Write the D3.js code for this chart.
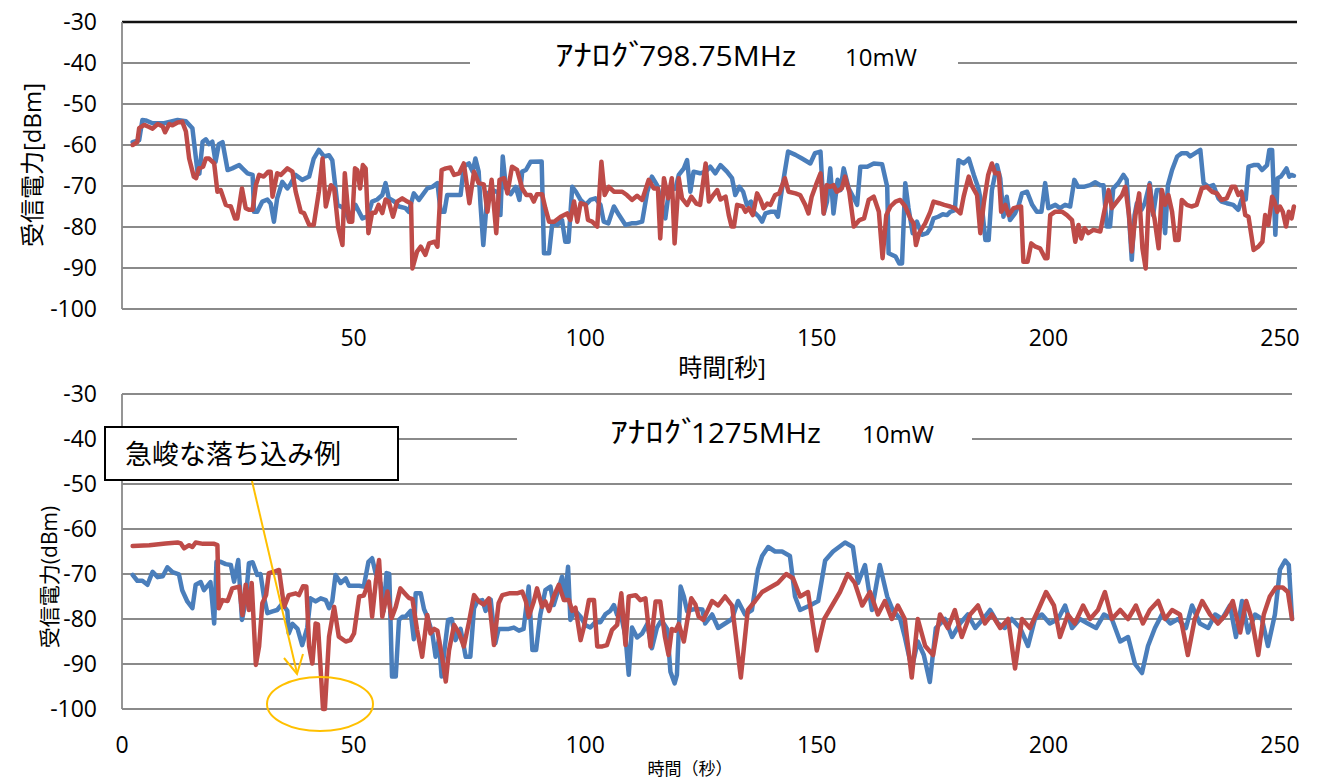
<!DOCTYPE html>
<html>
<head>
<meta charset="utf-8">
<script src="https://cdnjs.cloudflare.com/ajax/libs/d3/7.8.5/d3.min.js"></script>
<style>
  body { margin: 0; background: #fff; }
  text { font-family: "Open Sans", "Noto Sans CJK JP", sans-serif; fill: #000; }
</style>
</head>
<body>
<script>
// received power over time, [seconds, dBm]
var top798Blue = [[2.3,-59.3],[3.7,-58.8],[4.4,-53.9],[5.1,-54],[6.6,-54.7],[9.1,-54.7],[12,-53.9],[13.8,-54.2],[15.2,-55.9],[16.3,-66.5],[16.7,-67],[17.4,-59.2],[18.1,-58.6],[18.8,-59.8],[19.5,-59.2],[20.2,-64.1],[20.9,-59.8],[21.7,-59.3],[22.8,-66.1],[23.8,-65.7],[25.3,-64.9],[26,-65.7],[27.1,-66.9],[28.2,-67.3],[28.5,-76.3],[29.2,-76.3],[30.3,-73.8],[31.4,-73.3],[32.1,-74.3],[32.8,-78.7],[33.5,-73],[34.6,-69],[35.7,-70.6],[36.4,-69.5],[37.5,-67.3],[38.9,-68.5],[40.4,-67.7],[41.4,-63.3],[42.5,-61.2],[43.6,-62.8],[44.7,-62.5],[45.4,-63.7],[46.5,-74.6],[47.9,-75.4],[49,-78.3],[50.4,-74.6],[51.9,-77.9],[53,-77.4],[54,-73.8],[55.1,-73.3],[56.2,-72.2],[56.9,-69.3],[57.6,-73],[58.7,-73.7],[59.8,-75],[61.2,-75.4],[61.9,-76.3],[63,-71.8],[64.1,-73.4],[65.9,-70.6],[67,-70.2],[68.1,-69.3],[68.8,-76.3],[69.6,-76.3],[70.2,-72.2],[73.1,-72.2],[73.8,-65.3],[74.9,-64.5],[75.7,-66.5],[76.3,-63.3],[77,-66.5],[77.4,-74.6],[78,-84.4],[78.9,-71.8],[80,-71],[81.2,-71.6],[81.7,-77.1],[82.2,-62.8],[82.9,-70.6],[83.9,-72],[85,-70.2],[85.8,-73.4],[86.4,-66.5],[87.2,-66.1],[88.2,-64.1],[90.6,-64],[91.1,-86.4],[92.2,-86.4],[92.9,-79.1],[94,-79.5],[95,-78.3],[95.7,-83.6],[96.4,-83.6],[97.2,-70.2],[98,-71.4],[99,-73.4],[100.1,-74.6],[101.1,-73.4],[102.2,-73],[103.3,-74.6],[104,-78.7],[105,-79.1],[106.2,-75],[107.3,-77.1],[108.7,-79.5],[110,-79.1],[110.9,-79.1],[112.3,-78.7],[113.4,-71.4],[114.4,-67.7],[115.5,-69.8],[116.6,-74.6],[117.3,-77.9],[118.1,-71],[119.5,-70.6],[120.2,-67.3],[121.3,-65.7],[122,-63.7],[122.7,-71.4],[123.4,-66.5],[124.8,-66.9],[126,-66.5],[127,-65.3],[128.1,-66.9],[129.2,-64.9],[130.6,-66.5],[131.7,-68.1],[132.4,-72.2],[133.3,-70.2],[134.1,-71.4],[134.9,-74.6],[135.8,-73.8],[136.4,-76.3],[137.5,-77.5],[138.2,-78.7],[138.9,-76.7],[140,-76.3],[141,-76.3],[141.6,-77.5],[142.5,-70.6],[143.8,-61.6],[145.4,-62.4],[146.8,-63.3],[148.6,-64.5],[149.6,-62],[150.8,-61.6],[151.5,-76.7],[152.2,-73.8],[152.9,-65.7],[153.6,-76.7],[154.5,-68.5],[155.1,-71],[155.8,-65.7],[156.9,-70.6],[158,-73],[158.7,-74.6],[159.4,-65.3],[160.9,-65.3],[162.3,-64.5],[164.1,-64.7],[165.2,-70.2],[165.5,-86.4],[167,-87.2],[167.8,-88.9],[168.4,-88.9],[169.1,-69.3],[169.8,-75.4],[170.7,-81.5],[171.6,-78.7],[172.7,-81.9],[173.8,-81.5],[174.5,-80.3],[175.2,-77.9],[176.2,-77.5],[177.2,-76.9],[178.1,-77.1],[178.8,-76.3],[179.8,-75.9],[180.6,-63.7],[181.7,-64.5],[182.8,-63.3],[183.9,-67.3],[184.9,-70.6],[185.6,-74.6],[186.4,-83.2],[187.1,-83.2],[187.8,-71],[188.9,-64.9],[189.6,-68.1],[190.3,-77.5],[191,-72.6],[191.7,-78.3],[192.8,-76.7],[193.6,-74.6],[194.3,-71.8],[195.4,-71.4],[196.5,-74.6],[197.5,-76.3],[198.5,-76.3],[199.3,-69.3],[200,-75.4],[201.5,-74.6],[202.5,-75.4],[203.6,-74.6],[204.7,-75],[205.6,-68.5],[206.4,-70.2],[207.6,-70.2],[209,-69.8],[210.1,-69.1],[211.2,-69.8],[211.9,-69.8],[212.6,-79.9],[213.3,-79.9],[214,-70.6],[215.1,-69.3],[216.2,-67.3],[216.9,-68.5],[218,-88],[218.6,-77.1],[219.1,-74.2],[220.1,-75.8],[220.8,-74.2],[221.9,-69.3],[222.6,-77.1],[223.4,-71],[224.3,-71],[225.2,-81.5],[225.8,-69.8],[226.7,-66.1],[227.8,-62.8],[228.8,-62],[229.9,-62],[230.6,-62.8],[231.7,-62],[232.8,-61.2],[233.5,-69.3],[234.6,-70.2],[235.6,-69.8],[236.7,-73],[237.4,-73.8],[238.5,-74.2],[239.9,-74.6],[241,-75.8],[241.7,-73.3],[242.6,-73.3],[243.2,-65.3],[244.3,-64.9],[245.3,-64.9],[246.1,-66.1],[247.2,-64.9],[247.7,-61.2],[248.3,-61.2],[249,-81.9],[249.5,-68.1],[250.2,-67.7],[250.7,-66.9],[251.4,-65.7],[252,-67.7],[252.5,-67.3],[253,-67.5]];

var top798Red = [[2.3,-60],[3.3,-59.3],[3.7,-55.9],[4.8,-55.1],[5.6,-55.5],[6.6,-56],[7.7,-54.9],[8.8,-55.5],[9.3,-56.9],[10.2,-54.9],[10.9,-55.2],[12,-54.5],[13,-54.3],[13.8,-56.7],[14.5,-63.3],[15.5,-67.7],[16,-68.1],[16.6,-65.7],[17.5,-65.3],[18.1,-63.3],[18.8,-63.3],[19.9,-64.5],[20.6,-71.4],[21.3,-71],[22.4,-74.6],[23.5,-75],[24.4,-77.9],[24.9,-77.9],[25.9,-70.6],[26.7,-75.4],[27.4,-75.8],[28.2,-75.8],[28.9,-69.8],[29.6,-67.3],[30.6,-67.7],[31.6,-66.5],[32.1,-66.5],[32.5,-72.6],[33.5,-66.9],[34.3,-67.3],[35.7,-65.7],[36.8,-66.5],[37.5,-71.4],[38.6,-76.3],[39.3,-76.6],[40.4,-79.5],[41.4,-79.5],[42.5,-71.4],[43.3,-63.3],[44,-75],[45.1,-69.8],[45.8,-70.6],[46.7,-80.3],[47.6,-84.4],[48.1,-66.9],[49,-78.7],[49.7,-78.7],[50.3,-65.7],[50.8,-66.1],[51.4,-70.6],[52,-64.9],[52.6,-65.7],[53.2,-81.5],[54,-76.5],[54.7,-76.5],[55.4,-74.6],[56.2,-76.6],[56.9,-73.3],[57.6,-73.8],[58.5,-77.5],[59.4,-73.8],[60.5,-73],[61.6,-73.8],[62.4,-74.3],[62.7,-90.1],[63.7,-86],[64.5,-84.8],[65.5,-86.8],[66.3,-84],[67.5,-83.6],[68.1,-84.8],[69,-66.1],[69.9,-65.7],[70.9,-65.5],[71.7,-67.3],[72.8,-66.9],[73.8,-64.5],[75,-74.2],[76,-66.5],[77,-69.3],[78.1,-69.6],[78.9,-76.3],[79.8,-68.5],[80.8,-81.5],[81.5,-68.5],[82.5,-68.1],[83.2,-71.8],[84.2,-65.3],[85.3,-66.1],[86.4,-70.6],[87.3,-72.2],[88.2,-72.2],[88.9,-73.8],[89.6,-72],[90.7,-72],[91.4,-75.4],[92.2,-78.7],[93.3,-78.7],[94.7,-77.5],[96.1,-76.7],[96.8,-78.3],[97.6,-73.8],[98.3,-78.7],[99,-74.2],[100.1,-74.6],[100.6,-78.3],[101.5,-78.7],[102.6,-79.9],[103.5,-64.1],[104.2,-72.2],[105.1,-70.2],[106.2,-71.4],[108,-71.4],[109,-72.2],[110.1,-73.4],[111.2,-72.4],[112.3,-73.4],[113.7,-68.5],[114.8,-70.6],[115.7,-70.6],[116.2,-82.8],[117,-68.1],[117.9,-73],[118.7,-68.1],[119.3,-84],[120.2,-68.1],[120.9,-73],[122,-74.6],[122.9,-72.6],[124,-74.3],[124.8,-74.6],[126,-64.5],[126.7,-73.8],[127.4,-72.6],[128.5,-71],[129.2,-73.3],[130.3,-72.6],[131,-77.1],[131.6,-79.9],[132.1,-79.9],[132.8,-74.6],[134,-75],[134.6,-76.3],[135.3,-75.4],[136.2,-77.1],[137.1,-71.8],[137.8,-73.3],[138.5,-75.4],[139.3,-74.3],[140,-74.6],[141,-72.2],[141.9,-71.8],[143.1,-68.1],[143.9,-71.4],[145.4,-71.8],[146.4,-72.2],[147.5,-74.6],[148.2,-76.7],[148.9,-72.6],[149.8,-69.8],[150.8,-66.9],[151.5,-76.7],[152.1,-69.8],[152.9,-70.2],[153.6,-69.8],[154.3,-71.4],[155.4,-70.6],[156.1,-67.7],[157,-71.4],[158,-79.9],[159.2,-78.3],[160.2,-77.9],[161.2,-73.4],[162.3,-72.6],[163.4,-76.3],[164.2,-87.6],[165,-77.1],[165.9,-75],[167,-73.8],[168,-73.4],[169.1,-75],[170.2,-77.9],[170.9,-79.1],[171.4,-84.4],[172.1,-81.5],[173.4,-79.1],[174.5,-76.3],[175.2,-73.8],[176.4,-74.2],[177.5,-74.6],[178.8,-75],[179.8,-75.4],[181,-76.7],[181.7,-72.6],[182.8,-67.7],[183.4,-69.8],[184.6,-72.2],[185.3,-81.5],[186.1,-73.8],[187,-67.3],[187.8,-64.5],[188.5,-66.9],[189.3,-66.9],[189.8,-76.3],[190.7,-74.6],[191.4,-77.1],[192.5,-75.4],[193.3,-75.2],[194.1,-75],[194.6,-88.5],[195.5,-88.5],[196.3,-84],[197.2,-84.8],[198.2,-85.2],[199.3,-87.6],[199.8,-87.6],[200.4,-77.1],[201.4,-76.3],[203,-76.3],[204,-77.1],[205.1,-78.3],[205.8,-83.6],[206.5,-79.5],[207.1,-82.8],[207.8,-80.3],[208.6,-81.5],[209.7,-80.7],[211.2,-81.1],[211.9,-77.1],[213,-71],[213.7,-75.4],[214.8,-73.8],[215.9,-72.2],[216.6,-70.2],[217.4,-77.1],[218,-86],[218.8,-77.1],[219.6,-71.8],[220.3,-85.2],[221,-90.1],[221.8,-69.8],[222.4,-75.4],[222.9,-77.9],[223.8,-85.2],[224.5,-71],[225.2,-74.6],[225.9,-72.2],[226.7,-76.3],[227.4,-83.2],[228.1,-83.2],[228.8,-73.4],[229.9,-74.6],[230.9,-75],[232,-74.6],[233.1,-70.6],[234.2,-70.2],[235.3,-71.4],[236.4,-71.8],[237.4,-73.4],[238.5,-73],[239.6,-70.2],[240.3,-70.2],[241,-72.2],[241.7,-71.4],[242.5,-77.1],[243.2,-77.5],[244.3,-85.6],[245.3,-84.8],[246.2,-83.6],[246.8,-77.1],[247.5,-79.5],[248.3,-72.6],[248.8,-73.8],[249.4,-76.3],[250,-75],[250.6,-76.3],[251.3,-79.9],[251.9,-76.3],[252.5,-77.9],[253,-75]];

var bot1275Blue = [[2.3,-70.2],[3.3,-71.5],[4.4,-71.5],[5.5,-72.4],[6.6,-69.5],[7.7,-70.7],[8.8,-70.5],[9.8,-68.5],[10.9,-69.6],[12.3,-70.1],[13,-73.6],[14.1,-76.1],[15.2,-77.6],[15.9,-72.4],[17,-71.8],[17.7,-73.6],[19.1,-71.8],[19.9,-81],[20.4,-67.3],[21.3,-67.3],[22.4,-67.8],[23.5,-68],[24.2,-71.7],[25.1,-66.9],[25.9,-80.2],[26.7,-76],[27.4,-67.6],[28.2,-67.4],[29.2,-70.2],[29.9,-70],[30.7,-75.4],[31.4,-78.7],[32.5,-78.3],[33.5,-78],[34.6,-76.6],[35.7,-78.2],[36,-83.2],[36.8,-81.1],[37.9,-82.2],[38.9,-85.8],[40,-81.9],[40.7,-75.4],[41.8,-76.1],[42.9,-75.4],[44,-75.8],[44.7,-77.6],[45.4,-76],[46.1,-70.2],[47.2,-72],[48.3,-71],[49,-72.6],[51.2,-72.6],[52.2,-72.8],[53.2,-67.3],[54,-66.5],[54.8,-70],[55.8,-72],[56.5,-78.2],[57.1,-69.8],[57.7,-70],[58.3,-92.8],[59.1,-92.8],[59.8,-80.2],[60.5,-79.5],[61.2,-79.5],[62.3,-78.2],[63,-84.5],[63.4,-74.3],[64.5,-74.3],[65.2,-77.8],[65.9,-79.5],[67,-83.2],[67.7,-88.4],[68.4,-84.6],[69,-92.8],[69.6,-87],[70.4,-80.2],[71.2,-80],[72,-84.7],[73.1,-82.2],[74.2,-88.4],[75.2,-88.4],[76,-77.6],[76.7,-76.1],[77.8,-75.8],[78.5,-78.2],[79.6,-75.7],[80.6,-85.4],[81.3,-82.2],[82.4,-82.2],[83.5,-82.2],[84.6,-81.9],[85.7,-82.6],[86.7,-82.2],[87.8,-72.8],[88.6,-86.9],[89.4,-86.9],[90.3,-79.1],[91.4,-73.6],[92.5,-72.8],[93.2,-76.9],[94.3,-73.2],[95,-70.6],[95.6,-75.8],[96.3,-68.4],[96.8,-80.2],[97.9,-78.2],[99,-79.5],[100.1,-81.4],[101.1,-81.9],[102.2,-80.7],[103.3,-80.7],[104.4,-78.9],[105.4,-78.2],[106.2,-76.9],[106.9,-79.1],[107.8,-79.5],[108.7,-83.9],[109.4,-92.4],[110.1,-81.9],[111.2,-84.1],[112.3,-83.2],[113.4,-81.1],[114.4,-86.5],[115.5,-81.9],[116.2,-80.7],[117,-81.1],[117.7,-82.2],[118.4,-91.7],[119.3,-94.3],[119.8,-92.4],[120.6,-72.8],[121.3,-75],[122,-78.3],[123.1,-77.9],[124.2,-77.8],[125.3,-77.9],[125.9,-81],[127.4,-79],[128.7,-82],[130.2,-81],[131.7,-80],[133,-76],[134.5,-79],[136,-78],[137.3,-69],[138.2,-66],[139.5,-64],[141,-65],[142.5,-65],[144.2,-66],[145.3,-75],[146.4,-78],[148.5,-77],[150.3,-76],[151.8,-67],[153.5,-65],[156.1,-63],[157.8,-64],[158.9,-72],[160.4,-68],[161.9,-78],[163.6,-68],[165.2,-75],[166.4,-78],[168,-80],[169,-84],[170.5,-91],[171.8,-85],[173.1,-88],[174.4,-94],[175.7,-82],[177.7,-80],[179.2,-84],[180.9,-81],[182.6,-79],[184.2,-82],[185.9,-80],[187.4,-78],[189.1,-81],[190.6,-82],[192.1,-80],[193.9,-82],[195.6,-86],[197.1,-80],[198.6,-79],[200.3,-81],[202.1,-80],[203.6,-77],[205.1,-82],[206.8,-80],[208.5,-81],[210.3,-82],[212,-79],[213.7,-80],[215.5,-85],[217.2,-84],[218.7,-90],[220.2,-92],[221.5,-86],[223,-82],[224.5,-79],[226.3,-81],[228,-80],[229.7,-82],[231,-77],[232.7,-81],[234.5,-82],[236,-79],[237.5,-80],[239.2,-77],[240.5,-84],[241.8,-76],[243.1,-83],[244.6,-79],[246.1,-80],[247.4,-86],[248.9,-79],[250,-69],[251.1,-67],[251.9,-68],[252.6,-80]];

var bot1275Red = [[2.3,-63.8],[5.9,-63.6],[9.4,-63.2],[12,-63],[12.7,-63.2],[13.4,-64.3],[14.5,-63.6],[15.2,-64],[15.9,-63],[17.5,-63.3],[19.9,-63.3],[20.6,-63.6],[20.9,-77.6],[21.7,-75.8],[22.8,-76],[23.8,-73.2],[25.3,-72.8],[26,-79.1],[26.7,-72.4],[27.4,-78],[28,-72],[28.9,-90.2],[29.6,-86.1],[30.3,-76.5],[31.1,-74.7],[31.7,-69.8],[32.8,-69.5],[33.9,-69.1],[35,-77.3],[36,-74.7],[37.5,-74.3],[38.2,-74.7],[39.1,-72.7],[39.8,-72.8],[40.4,-86.1],[41.1,-89.9],[41.8,-81],[42.3,-81.2],[43.4,-100],[43.8,-100],[44.7,-83.9],[45.8,-77.3],[46.8,-83.9],[48.3,-85],[49.3,-84.7],[50.1,-83.2],[51.2,-75],[52.2,-74.8],[53.3,-71.7],[54,-79.5],[54.8,-71.7],[55.5,-66.9],[56.2,-79.5],[57.3,-73.9],[58.2,-79.8],[59.1,-77.3],[60.1,-73.2],[61.2,-74.5],[61.9,-75.3],[62.7,-75.6],[63.7,-82.4],[64.8,-88.4],[65.9,-79.1],[66.6,-83.2],[67.4,-82.2],[68.1,-82.6],[69.1,-88.4],[69.9,-93.9],[70.6,-87],[71.7,-81.3],[72.8,-83.2],[73.8,-86.1],[74.9,-80.7],[76,-74.7],[77,-76.1],[78.1,-76.8],[79.2,-75.4],[80.3,-85.8],[81.3,-76.5],[82.1,-74.7],[83.6,-74.3],[85.3,-74.3],[86.4,-73.9],[87.2,-76.1],[87.8,-79.5],[88.9,-76.1],[89.6,-73.2],[90.7,-77.3],[91.4,-76.1],[92.2,-78.2],[93.2,-75],[94.3,-72.4],[95.4,-75.8],[96.5,-75.8],[97.2,-78.2],[97.9,-77.5],[99,-84.7],[99.7,-81.9],[100.8,-75.8],[101.9,-75.8],[102.6,-86.1],[103.7,-86.1],[104.7,-85.8],[105.8,-82.4],[106.9,-81.3],[107.8,-74.3],[108.7,-85.8],[109.4,-75],[110.9,-74.7],[111.9,-75.8],[113,-75.4],[114.1,-86.1],[115.2,-76.1],[116.2,-76.1],[117.2,-83.9],[118,-88],[118.7,-82.2],[119.5,-82.6],[120.2,-81.1],[121.3,-85],[122,-80.6],[122.9,-75.4],[123.8,-76.8],[124.5,-79.5],[125.5,-80.2],[127.4,-76],[128.7,-77],[130.2,-75],[131.7,-77],[133.6,-93],[135.1,-78],[136.7,-76],[138.2,-74],[139.9,-73],[141.6,-72],[143.4,-70],[144.9,-71],[146.4,-75],[148.1,-74],[150,-87],[151.6,-80],[153.3,-77],[155,-74],[156.7,-70],[158.2,-72],[159.8,-77],[161.5,-74],[163.2,-79],[164.7,-76],[166.2,-80],[167.5,-77],[169,-80],[170.5,-93],[171.8,-80],[173.4,-86],[175.1,-88],[176.6,-79],[178.3,-82],[179.8,-78],[181.3,-84],[183.1,-79],[184.8,-77],[186.3,-81],[187.8,-79],[189.6,-82],[191.3,-80],[192.8,-91],[194.3,-80],[196,-82],[197.8,-78],[199.5,-74],[201.2,-77],[202.5,-84],[204.2,-79],[205.7,-81],[207.5,-77],[209,-80],[210.7,-78],[212.2,-74],[213.7,-80],[215.5,-78],[217.2,-80],[218.9,-77],[220.4,-81],[221.9,-78],[223.7,-76],[225.2,-80],[226.7,-78],[228.4,-79],[230.1,-88],[231.6,-80],[233.2,-76],[234.9,-79],[236.6,-81],[238.3,-79],[239.8,-76],[241.4,-83],[242.7,-76],[243.9,-80],[245.3,-88],[246.5,-79],[247.8,-75],[249.1,-73],[250.6,-73],[251.7,-74],[252.6,-80]];

var yTicks = [-30, -40, -50, -60, -70, -80, -90, -100];
var topXTicks = [50, 100, 150, 200, 250];
var botXTicks = [0, 50, 100, 150, 200, 250];

var W = 1327, H = 779;
var blue = "#4a7ebb", red = "#be4b48", gridCol = "#8a8a8a";
var pxPerSec = 4.632;

var svg = d3.select("body").append("svg")
    .attr("width", W).attr("height", H);

var drawPanel = function(cfg){
    var g = svg.append("g");
    var x = d3.scaleLinear().domain([0, (cfg.right - 122) / pxPerSec]).range([122, cfg.right]);
    var y = d3.scaleLinear().domain([-100, -30]).range([cfg.bottom, cfg.top]);

    // grid
    g.selectAll("line.grid").data(yTicks).enter().append("line")
        .attr("x1", 122).attr("x2", cfg.right)
        .attr("y1", d => y(d)).attr("y2", d => y(d))
        .attr("stroke", d => (d == -30 && cfg.darkTop) ? "#111" : gridCol)
        .attr("stroke-width", d => (d == -30 && cfg.darkTop) ? 2.5 : 1.8);
    g.append("line")
        .attr("x1", 122).attr("x2", 122)
        .attr("y1", cfg.top).attr("y2", cfg.bottom)
        .attr("stroke", gridCol).attr("stroke-width", 1.8);

    // y labels
    g.selectAll("text.ylab").data(yTicks).enter().append("text")
        .attr("x", 97).attr("y", d => y(d))
        .attr("dy", "0.36em")
        .attr("text-anchor", "end")
        .style("font-size", "23px")
        .text(d => d);

    // x labels
    g.selectAll("text.xlab").data(cfg.xTicks).enter().append("text")
        .attr("x", d => x(d)).attr("y", cfg.xLabY)
        .attr("text-anchor", "middle")
        .style("font-size", "23px")
        .text(d => d);

    // title block covers the -40 grid line
    g.append("rect")
        .attr("x", cfg.titleGap[0]).attr("y", y(-40) - 4)
        .attr("width", cfg.titleGap[1] - cfg.titleGap[0]).attr("height", 8)
        .attr("fill", "#fff");
    g.append("text")
        .attr("x", cfg.titleX).attr("y", cfg.titleY)
        .attr("textLength", cfg.kanaLen).attr("lengthAdjust", "spacingAndGlyphs")
        .style("font-size", "29px")
        .text("ｱﾅﾛｸﾞ");
    g.append("text")
        .attr("x", cfg.titleX + cfg.kanaLen - 8).attr("y", cfg.titleY)
        .attr("textLength", cfg.freqLen + 7).attr("lengthAdjust", "spacingAndGlyphs")
        .style("font-size", "28px")
        .text(cfg.freq);
    g.append("text")
        .attr("x", cfg.powX).attr("y", cfg.titleY)
        .style("font-size", "24px")
        .text("10mW");

    var line = d3.line().x(d => x(d[0])).y(d => y(d[1]));
    [[cfg.blue, blue], [cfg.red, red]].forEach(function(s){
        g.append("path")
            .datum(s[0])
            .attr("d", line)
            .attr("fill", "none")
            .attr("stroke", s[1])
            .attr("stroke-width", 4.5)
            .attr("stroke-linejoin", "round")
            .attr("stroke-linecap", "round");
    });
    return g;
};

drawPanel({top: 22, bottom: 309, right: 1297,
    xTicks: topXTicks, xLabY: 346, darkTop: true,
    titleGap: [470, 958], titleX: 555, kanaLen: 92, freqLen: 150, powX: 845, titleY: 66,
    freq: "798.75MHz", blue: top798Blue, red: top798Red});

drawPanel({top: 394, bottom: 709, right: 1292,
    xTicks: botXTicks, xLabY: 753, darkTop: false,
    titleGap: [517, 972], titleX: 610, kanaLen: 89, freqLen: 123, powX: 862, titleY: 443,
    freq: "1275MHz", blue: bot1275Blue, red: bot1275Red});

// axis titles
svg.append("text")
    .attr("transform", "translate(41,165) rotate(-90)")
    .attr("text-anchor", "middle")
    .style("font-size", "24px")
    .text("受信電力[dBm]");
svg.append("text")
    .attr("x", 722).attr("y", 376)
    .attr("text-anchor", "middle")
    .style("font-size", "24px")
    .text("時間[秒]");
svg.append("text")
    .attr("transform", "translate(57,577) rotate(-90)")
    .attr("text-anchor", "middle")
    .style("font-size", "21px")
    .text("受信電力(dBm)");
svg.append("text")
    .attr("x", 690).attr("y", 775)
    .attr("text-anchor", "middle")
    .style("font-size", "17px")
    .text("時間（秒）");

// annotation
var note = svg.append("g");
note.append("rect")
    .attr("x", 105).attr("y", 427).attr("width", 293).attr("height", 53)
    .attr("fill", "#fff").attr("stroke", "#000").attr("stroke-width", 2);
note.append("text")
    .attr("x", 125).attr("y", 464)
    .style("font-size", "27px")
    .text("急峻な落ち込み例");
note.append("line")
    .attr("x1", 252).attr("y1", 481).attr("x2", 297).attr("y2", 673)
    .attr("stroke", "#ffc000").attr("stroke-width", 2);
note.append("path")
    .attr("d", "M284,658 L297,674 L303,654")
    .attr("fill", "none").attr("stroke", "#ffc000").attr("stroke-width", 2);
note.append("ellipse")
    .attr("cx", 320).attr("cy", 704).attr("rx", 53).attr("ry", 27)
    .attr("fill", "none").attr("stroke", "#ffc000").attr("stroke-width", 2);
</script>
</body>
</html>
